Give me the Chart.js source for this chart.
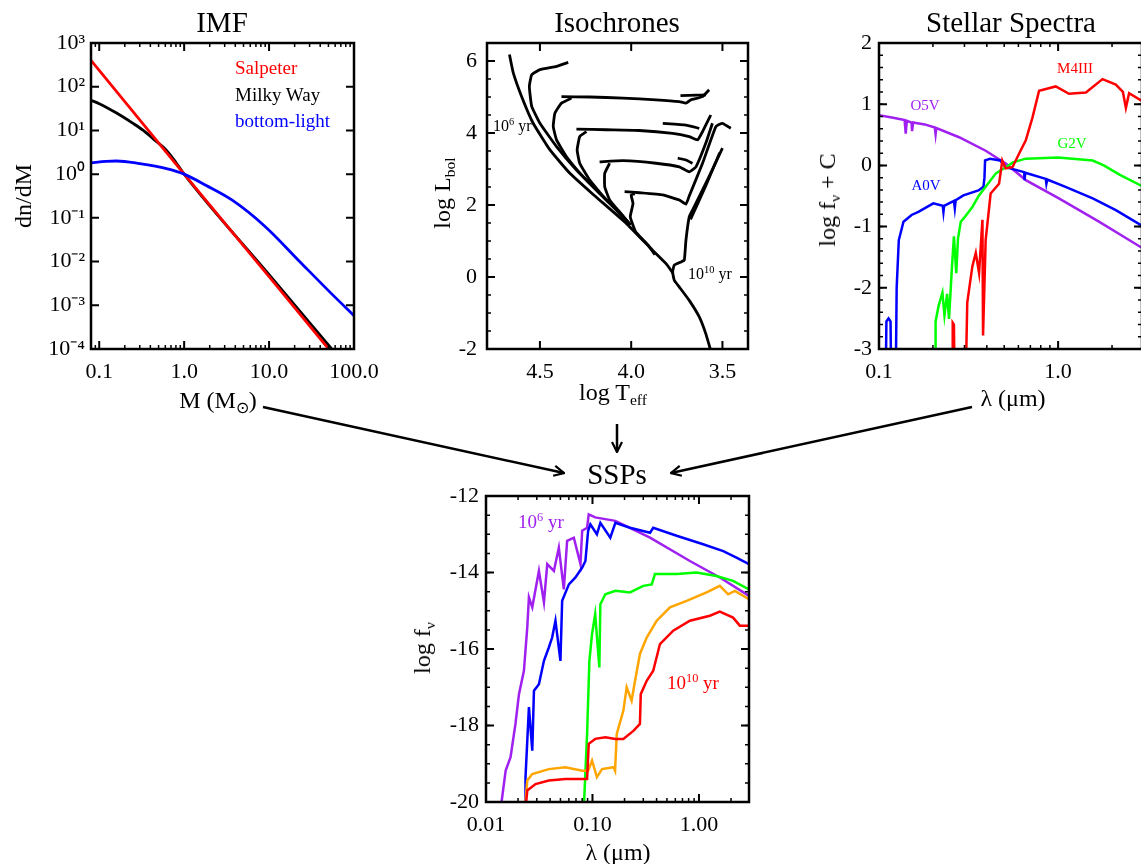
<!DOCTYPE html>
<html>
<head>
<meta charset="utf-8">
<script src="https://cdn.jsdelivr.net/npm/chart.js@4.4.1/dist/chart.umd.min.js"></script>
<style>
  html, body { margin: 0; padding: 0; background: #fff; width: 1141px; height: 864px; overflow: hidden; }
  body { position: relative; font-family: 'Liberation Serif', 'Times New Roman', serif; color: #000; }
  canvas { position: absolute; }
  .t { position: absolute; white-space: nowrap; transform: translate(-50%, -50%); line-height: 1; }
  .l { position: absolute; white-space: nowrap; transform: translate(0, -50%); line-height: 1; }
  .rot { transform: translate(-50%, -50%) rotate(-90deg); }
  .title { font-size: 29px; }
  .axt { font-size: 24px; }
  sub, sup { font-size: 65%; line-height: 0; position: relative; vertical-align: baseline; }
  sup { top: -0.55em; }
  sub { top: 0.35em; }
  svg { position: absolute; left: 0; top: 0; pointer-events: none; }
</style>
</head>
<body>
<canvas id="imf"></canvas>
<canvas id="iso"></canvas>
<canvas id="spec"></canvas>
<canvas id="ssp"></canvas>

<div class="t title" style="left:222px;top:22px">IMF</div>
<div class="t title" style="left:617px;top:22px">Isochrones</div>
<div class="t title" style="left:1011px;top:22px">Stellar Spectra</div>
<div class="t title" style="left:617px;top:474px">SSPs</div>

<div class="t axt rot" style="left:23px;top:196px">dn/dM</div>
<div class="t axt" style="left:218px;top:400px">M (M<sub>⊙</sub>)</div>
<div class="t axt rot" style="left:442px;top:193px">log L<sub>bol</sub></div>
<div class="t axt" style="left:613px;top:392px">log T<sub>eff</sub></div>
<div class="t axt rot" style="left:827px;top:200px">log f<sub>ν</sub> + C</div>
<div class="t axt" style="left:1013px;top:398px">λ (μm)</div>
<div class="t axt rot" style="left:422px;top:648px">log f<sub>ν</sub></div>
<div class="t axt" style="left:618px;top:852px">λ (μm)</div>

<div class="l" style="left:235px;top:67px;font-size:19px;color:#ff0000">Salpeter</div>
<div class="l" style="left:235px;top:94px;font-size:19px;color:#000">Milky Way</div>
<div class="l" style="left:235px;top:120px;font-size:19px;color:#0000ff">bottom-light</div>

<div class="l" style="left:493px;top:126px;font-size:16px">10<sup>6</sup> yr</div>
<div class="l" style="left:688px;top:274px;font-size:16px">10<sup>10</sup> yr</div>

<div class="t" style="left:925px;top:105px;font-size:15px;color:#a020f0">O5V</div>
<div class="t" style="left:1075px;top:68px;font-size:15px;color:#ff0000">M4III</div>
<div class="t" style="left:1072px;top:143px;font-size:15px;color:#00ff00">G2V</div>
<div class="t" style="left:926px;top:185px;font-size:15px;color:#0000ff">A0V</div>

<div class="l" style="left:518px;top:521px;font-size:19px;color:#a020f0">10<sup>6</sup> yr</div>
<div class="l" style="left:667px;top:682px;font-size:19px;color:#ff0000">10<sup>10</sup> yr</div>

<svg width="1141" height="864">
  <defs>
    <marker id="ah" viewBox="0 0 12 12" refX="11" refY="6" markerWidth="12" markerHeight="12" markerUnits="userSpaceOnUse" orient="auto">
      <path d="M1,1 L11,6 L1,11" fill="none" stroke="#000" stroke-width="2.2"/>
    </marker>
  </defs>
  <line x1="263" y1="407" x2="564" y2="473" stroke="#000" stroke-width="2.5" marker-end="url(#ah)"/>
  <line x1="617" y1="424" x2="617" y2="452" stroke="#000" stroke-width="2.5" marker-end="url(#ah)"/>
  <line x1="972" y1="407" x2="671" y2="473" stroke="#000" stroke-width="2.5" marker-end="url(#ah)"/>
</svg>

<script>
// ---- IMF (mass in Msun, dn/dM) ----
const salpeter = [[0.08, 400], [1, 1], [10, 0.0045], [60, 6.6e-5]];
const milkyWay = [[0.08, 49], [0.1, 41], [0.16, 25], [0.25, 14.5], [0.33, 10], [0.45, 6.0], [0.62, 3.5], [0.8, 1.85], [1, 1], [10, 0.005], [60, 8.1e-5]];
const bottomLight = [[0.08, 1.8], [0.12, 1.95], [0.16, 2.0], [0.3, 1.74], [0.62, 1.34], [1, 1], [1.82, 0.55], [3.72, 0.25], [9.1, 0.062], [22.4, 0.0105], [55, 0.0018], [100, 5.8e-4]];
const imfMassTicks = [0.1, 1, 10, 100];
const imfDnTicks = [1e-4, 1e-3, 1e-2, 1e-1, 1, 10, 100, 1000];

// ---- Isochrones (log Teff, log Lbol) ----
const iso6 = [[4.667, 6.18], [4.646, 5.67], [4.60, 5.01], [4.537, 4.27], [4.445, 3.53], [4.336, 2.88], [4.21, 2.3], [4.027, 1.49], [3.882, 0.74], [3.809, 0.37], [3.77, 0.1]];
const isoB = [[4.345, 5.96], [4.409, 5.85], [4.5, 5.76], [4.545, 5.62], [4.558, 5.29], [4.545, 4.74], [4.5, 4.27], [4.409, 3.62], [4.30, 2.97], [4.191, 2.42], [4.09, 1.92], [4.005, 1.45]];
const isoC = [[4.005, 1.45], [4.082, 1.86], [4.173, 2.32], [4.264, 2.79], [4.354, 3.34], [4.409, 3.81], [4.427, 4.18], [4.418, 4.55], [4.382, 4.83], [4.327, 4.97]];
const isoCPost = [[4.382, 5.01], [4.227, 5.0], [4.045, 4.97], [3.864, 4.92], [3.736, 4.87], [3.70, 4.83], [3.673, 4.92], [3.609, 5.01], [3.573, 5.2]];
const isoCLoop = [[3.73, 5.04], [3.64, 5.05], [3.59, 5.06]];
const isoD = [[4.005, 1.45], [4.073, 1.86], [4.136, 2.14], [4.227, 2.69], [4.282, 3.16], [4.296, 3.53], [4.282, 3.90], [4.245, 4.04]];
const isoDPost = [[4.30, 4.11], [4.136, 4.09], [3.955, 4.07], [3.773, 3.99], [3.682, 3.90], [3.636, 3.81], [3.609, 4.04], [3.564, 4.50]];
const isoDLoop = [[3.827, 4.27], [3.70, 4.22], [3.627, 4.13]];
const isoE = [[4.005, 1.45], [4.06, 1.78], [4.118, 2.14], [4.145, 2.51], [4.145, 2.88], [4.118, 3.16]];
const isoEPost = [[4.173, 3.20], [4.045, 3.23], [3.864, 3.16], [3.736, 3.06], [3.682, 2.92], [3.645, 3.06], [3.591, 3.72], [3.555, 4.27]];
const isoELoop = [[3.745, 3.30], [3.70, 3.25], [3.664, 3.16]];
const isoF = [[3.87, 0.62], [3.91, 0.9], [3.975, 1.25], [4.005, 1.67], [3.99, 2.04], [4.0, 2.28], [3.98, 2.31]];
const isoFPost = [[4.036, 2.37], [3.955, 2.34], [3.827, 2.28], [3.736, 2.14], [3.70, 2.02], [3.682, 2.25], [3.609, 3.16], [3.536, 4.18], [3.50, 4.27], [3.454, 4.13]];
const isoRgb = [[3.675, 1.6], [3.59, 2.55], [3.515, 3.45]];
const iso10 = [[3.555, -2.2], [3.591, -1.58], [3.627, -1.11], [3.682, -0.65], [3.736, -0.28], [3.764, -0.09], [3.773, 0.14], [3.764, 0.33], [3.727, 0.42], [3.709, 0.47], [3.70, 1.02], [3.682, 1.67], [3.664, 1.86], [3.58, 2.72], [3.5, 3.58]];
const isoTeffTicks = [4.5, 4.0, 3.5];
const isoLbolTicks = [-2, 0, 2, 4, 6];

// ---- Stellar spectra (lambda in micron, log f_nu + C) ----
const o5v = [[0.1, 0.82], [0.12, 0.78], [0.139, 0.74], [0.141, 0.52], [0.143, 0.73], [0.152, 0.70], [0.153, 0.56], [0.155, 0.70], [0.18, 0.67], [0.205, 0.62], [0.207, 0.51], [0.209, 0.61], [0.28, 0.46], [0.394, 0.24], [0.51, 0.03], [0.66, -0.24], [1.01, -0.54], [1.69, -0.92], [2.95, -1.35]];
const a0v = [[0.109, -3.5], [0.110, -2.55], [0.113, -2.5], [0.116, -2.55], [0.117, -3.5], [0.124, -3.5], [0.1255, -2.0], [0.129, -1.22], [0.137, -0.92], [0.152, -0.81], [0.166, -0.76], [0.201, -0.62], [0.227, -0.66], [0.229, -0.76], [0.231, -0.66], [0.262, -0.58], [0.265, -0.7], [0.268, -0.57], [0.296, -0.49], [0.359, -0.41], [0.383, -0.35], [0.388, -0.2], [0.391, 0.08], [0.417, 0.11], [0.474, 0.08], [0.51, -0.03], [0.646, -0.11], [0.65, -0.24], [0.655, -0.12], [0.853, -0.22], [0.86, -0.3], [0.87, -0.23], [1.10, -0.35], [1.56, -0.54], [2.10, -0.73], [2.95, -0.99]];
const g2v = [[0.207, -3.5], [0.207, -2.55], [0.215, -2.3], [0.226, -2.08], [0.232, -2.45], [0.24, -2.1], [0.246, -2.51], [0.255, -1.7], [0.262, -1.16], [0.27, -1.76], [0.276, -1.2], [0.286, -0.92], [0.30, -0.85], [0.332, -0.68], [0.36, -0.5], [0.394, -0.35], [0.449, -0.13], [0.51, -0.03], [0.56, 0.05], [0.66, 0.11], [1.0, 0.13], [1.56, 0.08], [1.8, 0.0], [2.2, -0.15], [2.95, -0.34]];
const m4iii = [[0.257, -3.5], [0.258, -2.57], [0.262, -2.6], [0.264, -3.5], [0.305, -3.5], [0.311, -2.24], [0.332, -1.65], [0.347, -1.43], [0.362, -1.76], [0.378, -0.89], [0.381, -2.78], [0.394, -1.22], [0.42, -0.46], [0.468, -0.3], [0.488, 0.08], [0.51, -0.05], [0.556, -0.03], [0.605, 0.19], [0.66, 0.41], [0.719, 0.78], [0.783, 1.22], [0.97, 1.29], [1.15, 1.17], [1.43, 1.19], [1.77, 1.41], [2.10, 1.32], [2.3, 1.2], [2.39, 0.94], [2.49, 1.18], [2.95, 1.05]];
const specLamTicks = [0.1, 1];
const specFluxTicks = [-3, -2, -1, 0, 1, 2];

// ---- SSPs (lambda in micron, log f_nu) ----
const ssp1e6 = [[0.0137, -20.2], [0.0153, -19.18], [0.017, -18.83], [0.0189, -17.96], [0.0204, -17.18], [0.0227, -16.57], [0.0244, -15.44], [0.0253, -14.65], [0.0272, -14.91], [0.0314, -13.96], [0.035, -14.78], [0.0376, -13.78], [0.0434, -13.96], [0.0483, -13.35], [0.0538, -14.44], [0.0578, -13.17], [0.0668, -13.09], [0.0771, -13.78], [0.080, -12.91], [0.089, -12.83], [0.0922, -12.48], [0.106, -12.56], [0.164, -12.65], [0.347, -13.09], [0.822, -13.70], [1.57, -14.13], [2.95, -14.61]];
const sspBlue = [[0.0235, -20.2], [0.0235, -19.35], [0.0253, -17.52], [0.0272, -18.66], [0.0282, -17.09], [0.0314, -16.92], [0.035, -16.31], [0.0389, -15.96], [0.0418, -15.7], [0.0449, -15.26], [0.050, -16.31], [0.0519, -14.74], [0.060, -14.31], [0.0692, -14.13], [0.080, -13.87], [0.0858, -13.70], [0.091, -12.91], [0.0955, -12.74], [0.110, -13.0], [0.1186, -12.70], [0.147, -13.09], [0.164, -12.70], [0.225, -12.83], [0.347, -12.96], [0.372, -12.83], [0.617, -13.04], [1.094, -13.26], [1.69, -13.44], [2.25, -13.61], [2.95, -13.78]];
const sspGreen = [[0.0828, -20.2], [0.089, -18.22], [0.0935, -16.31], [0.099, -15.61], [0.106, -15.09], [0.116, -16.48], [0.1186, -14.83], [0.132, -14.57], [0.164, -14.48], [0.225, -14.52], [0.30, -14.35], [0.36, -14.31], [0.386, -14.04], [0.617, -14.04], [0.95, -14.0], [1.46, -14.09], [2.09, -14.22], [2.95, -14.44]];
const sspOrange = [[0.0235, -20.0], [0.0244, -19.44], [0.0272, -19.27], [0.0389, -19.14], [0.0557, -19.09], [0.080, -19.18], [0.091, -19.18], [0.099, -18.92], [0.110, -19.35], [0.123, -19.14], [0.158, -19.09], [0.163, -19.18], [0.169, -18.22], [0.195, -17.61], [0.2095, -17.0], [0.233, -17.35], [0.251, -16.83], [0.279, -16.13], [0.323, -15.70], [0.401, -15.26], [0.534, -14.91], [0.766, -14.74], [1.18, -14.52], [1.57, -14.35], [1.88, -14.57], [2.17, -14.48], [2.95, -14.70]];
const ssp1e10 = [[0.0235, -20.2], [0.0244, -19.70], [0.0292, -19.53], [0.0389, -19.44], [0.0557, -19.40], [0.080, -19.40], [0.089, -19.40], [0.0922, -18.48], [0.106, -18.35], [0.132, -18.31], [0.164, -18.35], [0.195, -18.35], [0.242, -18.14], [0.279, -17.96], [0.284, -17.18], [0.323, -16.83], [0.372, -16.57], [0.43, -15.87], [0.573, -15.52], [0.822, -15.26], [1.265, -15.13], [1.57, -15.02], [2.09, -15.18], [2.42, -15.39], [2.95, -15.39]];
const sspLamTicks = [0.01, 0.1, 1];
const sspFluxTicks = [-20, -18, -16, -14, -12];

const PURPLE = '#a020f0', BLUE = '#0000ff', GREEN = '#00ff00', RED = '#ff0000', ORANGE = '#ffa500';

Chart.defaults.font.family = "'Liberation Serif', 'Times New Roman', serif";
Chart.defaults.color = '#000';

const supChars = { '-': '⁻', '0': '⁰', '1': '¹', '2': '²', '3': '³', '4': '⁴', '5': '⁵', '6': '⁶', '7': '⁷', '8': '⁸', '9': '⁹' };
function pow10Label(v) {
    const e = Math.round(Math.log10(v));
    return '10' + String(e).split('').map(c => supChars[c]).join('');
}

// minor tick positions (styling only)
function logMinors(lo, hi) {
    const out = [];
    for (let e = Math.floor(Math.log10(lo)); e <= Math.ceil(Math.log10(hi)); e++) {
        for (let m = 2; m <= 9; m++) {
            const v = m * Math.pow(10, e);
            if (v > lo && v < hi) out.push(v);
        }
    }
    return out;
}
function linMinors(lo, hi, step) {
    const out = [];
    for (let v = Math.ceil(lo / step) * step; v <= hi + 1e-9; v += step) out.push(+v.toFixed(6));
    return out;
}

// IDL-like box: thick frame with inward ticks on all four sides
const idlFrame = {
    id: 'idlFrame',
    afterDatasetsDraw(chart, args, opts) {
        const { ctx, chartArea: a } = chart;
        const xs = chart.scales.x, ys = chart.scales.y;
        ctx.save();
        ctx.strokeStyle = '#000';
        const mark = (scale, vals, len) => {
            ctx.beginPath();
            vals.forEach(v => {
                const p = scale.getPixelForValue(v);
                if (scale.isHorizontal()) {
                    if (p < a.left + 1 || p > a.right - 1) return;
                    ctx.moveTo(p, a.bottom); ctx.lineTo(p, a.bottom - len);
                    ctx.moveTo(p, a.top); ctx.lineTo(p, a.top + len);
                } else {
                    if (p < a.top + 1 || p > a.bottom - 1) return;
                    ctx.moveTo(a.left, p); ctx.lineTo(a.left + len, p);
                    ctx.moveTo(a.right, p); ctx.lineTo(a.right - len, p);
                }
            });
            ctx.stroke();
        };
        ctx.lineWidth = 2;
        mark(xs, xs.ticks.map(t => t.value), 8);
        mark(ys, ys.ticks.map(t => t.value), 8);
        ctx.lineWidth = 1.5;
        mark(xs, opts.xMinor || [], 4);
        mark(ys, opts.yMinor || [], 4);
        ctx.lineWidth = 2.5;
        ctx.strokeRect(a.left, a.top, a.right - a.left, a.bottom - a.top);
        ctx.restore();
    }
};
Chart.register(idlFrame);

function series(points, color, extra) {
    return Object.assign({
        data: points.map(p => ({ x: p[0], y: p[1] })),
        showLine: true,
        borderColor: color,
        backgroundColor: color,
        borderWidth: 2.5,
        pointRadius: 0,
        pointHoverRadius: 0,
        fill: false,
        tension: 0
    }, extra || {});
}

function axis(o, isX) {
    return {
        type: o.type || 'linear',
        position: isX ? 'bottom' : 'left',
        min: o.min,
        max: o.max,
        reverse: !!o.reverse,
        grid: { display: false, drawTicks: false },
        border: { display: false },
        ticks: {
            font: { size: 22 },
            color: '#000',
            padding: o.pad,
            maxRotation: 0,
            minRotation: 0,
            autoSkip: false,
            callback: v => o.fmt(v)
        },
        afterBuildTicks: s => { s.ticks = o.values.map(v => ({ value: v })); },
        afterFit: s => { if (isX) s.height = 40; else s.width = 70; }
    };
}

// the padding is kept larger than any label overhang so the plot box lands exactly on `box`
function makeChart(id, box, xAxis, yAxis, datasets, minors) {
    const yW = 70, xH = 40, padT = 30, padR = 44;
    const cv = document.getElementById(id);
    cv.width = yW + box.w + padR;
    cv.height = padT + box.h + xH;
    cv.style.left = (box.left - yW) + 'px';
    cv.style.top = (box.top - padT) + 'px';
    new Chart(cv, {
        type: 'scatter',
        data: { datasets: datasets },
        options: {
            responsive: false,
            animation: false,
            devicePixelRatio: 1,
            events: [],
            layout: { padding: { left: 0, top: padT, right: padR, bottom: 0 } },
            plugins: { legend: { display: false }, tooltip: { enabled: false }, idlFrame: minors },
            scales: { x: axis(xAxis, true), y: axis(yAxis, false) }
        }
    });
}

const fixed = n => v => Number(v).toFixed(n);
const plain = v => String(v);

// IMF
makeChart('imf', { left: 91, top: 43, w: 263, h: 306 },
    { type: 'logarithmic', min: 0.08, max: 100, values: imfMassTicks, fmt: fixed(1), pad: 10 },
    { type: 'logarithmic', min: 1e-4, max: 1e3, values: imfDnTicks, fmt: pow10Label, pad: 6 },
    [
        series(bottomLight, BLUE, { cubicInterpolationMode: 'monotone', borderWidth: 2.8 }),
        series(salpeter, RED, { borderWidth: 2.8 }),
        series(milkyWay, '#000', { cubicInterpolationMode: 'monotone', borderWidth: 2.8 })
    ],
    { xMinor: logMinors(0.08, 100), yMinor: [] });

// Isochrones
const isoStyle = { tension: 0.12, borderWidth: 2.8 };
makeChart('iso', { left: 487, top: 43, w: 261, h: 306 },
    { min: 3.36, max: 4.79, reverse: true, values: isoTeffTicks, fmt: fixed(1), pad: 10 },
    { min: -2, max: 6.5, values: isoLbolTicks, fmt: plain, pad: 10 },
    [iso6, isoB, isoC, isoCPost, isoCLoop, isoD, isoDPost, isoDLoop, isoE, isoEPost, isoELoop, isoF, isoFPost, isoRgb, iso10]
        .map(d => series(d, '#000', isoStyle)),
    { xMinor: [], yMinor: linMinors(-2, 6.5, 0.5) });

// Stellar spectra
makeChart('spec', { left: 879, top: 43, w: 263, h: 306 },
    { type: 'logarithmic', min: 0.1, max: 2.94, values: specLamTicks, fmt: fixed(1), pad: 10 },
    { min: -3, max: 2, values: specFluxTicks, fmt: plain, pad: 7 },
    [series(m4iii, RED), series(g2v, GREEN), series(a0v, BLUE), series(o5v, PURPLE)],
    { xMinor: logMinors(0.1, 2.94), yMinor: linMinors(-3, 2, 0.2) });

// SSPs
makeChart('ssp', { left: 486, top: 496, w: 263, h: 306 },
    { type: 'logarithmic', min: 0.01, max: 2.95, values: sspLamTicks, fmt: fixed(2), pad: 10 },
    { min: -20, max: -12, values: sspFluxTicks, fmt: plain, pad: 7 },
    [series(ssp1e10, RED), series(sspOrange, ORANGE), series(sspGreen, GREEN), series(sspBlue, BLUE), series(ssp1e6, PURPLE)],
    { xMinor: logMinors(0.01, 2.95), yMinor: linMinors(-20, -12, 0.5) });
</script>
</body>
</html>
